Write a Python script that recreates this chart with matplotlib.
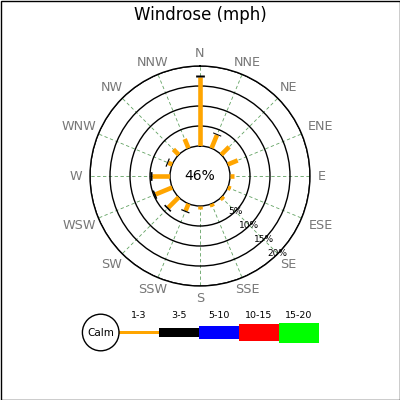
import numpy as np
import matplotlib
matplotlib.use("Agg")
import matplotlib.pyplot as plt
from matplotlib.patches import Circle, Rectangle

# ---- data ----
directions = ["N", "NNE", "NE", "ENE", "E", "ESE", "SE", "SSE",
              "S", "SSW", "SW", "WSW", "W", "WNW", "NW", "NNW"]
angles_deg = [0, 22.5, 45, 67.5, 90, 112.5, 135, 157.5,
              180, 202.5, 225, 247.5, 270, 292.5, 315, 337.5]
speed_1_3 = [17.2, 3.6, 2.8, 2.7, 1.0, 0.8, 0.8, 0.8,
             0.7, 1.9, 3.7, 4.5, 4.5, 1.1, 1.9, 2.5]
speed_3_5 = [0.5, 0.25, 0, 0, 0, 0, 0, 0,
             0, 0.3, 0.4, 0.4, 0.4, 0.3, 0, 0]
calm_pct = 46
ring_values = [5, 10, 15, 20]
ring_labels = ["5%", "10%", "15%", "20%"]
bin_labels = ["1-3", "3-5", "5-10", "10-15", "15-20"]
bin_colors = ["#FFA500", "#000000", "#0000FF", "#FF0000", "#00FF00"]
title = "Windrose (mph)"

R_ORIGIN = -7.5
R_MAX = 20
AX_R_PX = 110.0

fig = plt.figure(figsize=(4, 4), dpi=100)
ax = fig.add_axes([0.225, 0.285, 0.55, 0.55], projection="polar")
ax.set_theta_zero_location("N")
ax.set_theta_direction(-1)
ax.set_rorigin(R_ORIGIN)
ax.set_ylim(0, R_MAX)

ax.set_xticks(np.deg2rad(angles_deg))
ax.set_xticklabels([])
ax.set_yticks(ring_values)
ax.set_yticklabels([])
ax.xaxis.grid(True, color="#3a8a3a", linestyle=(0, (4, 3)), linewidth=0.6, alpha=0.8)
ax.yaxis.grid(True, color="black", linestyle="-", linewidth=1.0)
ax.spines["polar"].set_color("black")
ax.spines["polar"].set_linewidth(1.0)
ax.spines["inner"].set_visible(True)
ax.spines["inner"].set_color("black")
ax.spines["inner"].set_linewidth(1.0)
ax.tick_params(length=0)

for ang, a, b in zip(angles_deg, speed_1_3, speed_3_5):
    th = np.deg2rad(ang)
    if a > 0:
        ax.plot([th, th], [0, a], color=bin_colors[0], lw=3.3,
                solid_capstyle="butt", zorder=5)
    if b > 0:
        ax.plot([th, th], [a, a + b], color=bin_colors[1], lw=6.3,
                solid_capstyle="butt", zorder=5)

# direction labels: box edge touching a circle just outside the rose
fig.canvas.draw()
renderer = fig.canvas.get_renderer()
edge_px = 117.5
half_h = 5.0
for name, ang in zip(directions, angles_deg):
    th = np.deg2rad(ang)
    t = ax.text(th, 0, name, ha="center", va="center",
                fontsize=9.2, color="#777777", clip_on=False)
    w = t.get_window_extent(renderer).width
    s, c = abs(np.sin(th)), abs(np.cos(th))
    d = min((w / 2) / s if s > 1e-6 else np.inf,
            half_h / c if c > 1e-6 else np.inf)
    r_px = edge_px + d
    t.set_position((th, r_px / AX_R_PX * (R_MAX - R_ORIGIN) + R_ORIGIN))

for v, lab in zip(ring_values, ring_labels):
    ax.text(np.deg2rad(135), v, lab, ha="center", va="center",
            fontsize=6.5, color="black", zorder=6)

ax.text(0.5, 0.5, f"{calm_pct}%", transform=ax.transAxes,
        ha="center", va="center", fontsize=10)

fig.suptitle(title, y=0.985, fontsize=12)

# legend / frame overlay in pixel coordinates
ov = fig.add_axes([0, 0, 1, 1], facecolor="none")
ov.set_xlim(0, 400)
ov.set_ylim(400, 0)
ov.axis("off")
ov.add_patch(Rectangle((0.5, 0.5), 399, 399, fill=False, edgecolor="black", lw=1))
ov.add_patch(Circle((100.7, 332.5), 18.3, facecolor="white", edgecolor="black", lw=1, zorder=3))
ov.text(100.7, 332.5, "Calm", ha="center", va="center", fontsize=7.5, zorder=4)
heights = [3.7, 9, 12.7, 17, 20]
x0 = 119
for i, (lab, col, h) in enumerate(zip(bin_labels, bin_colors, heights)):
    xs = x0 + 40 * i
    ov.add_patch(Rectangle((xs, 332.5 - h / 2), 40, h, facecolor=col, edgecolor="none"))
    ov.text(xs + 20, 315, lab, ha="center", va="center", fontsize=6.8)

fig.savefig("out.png", dpi=100)
